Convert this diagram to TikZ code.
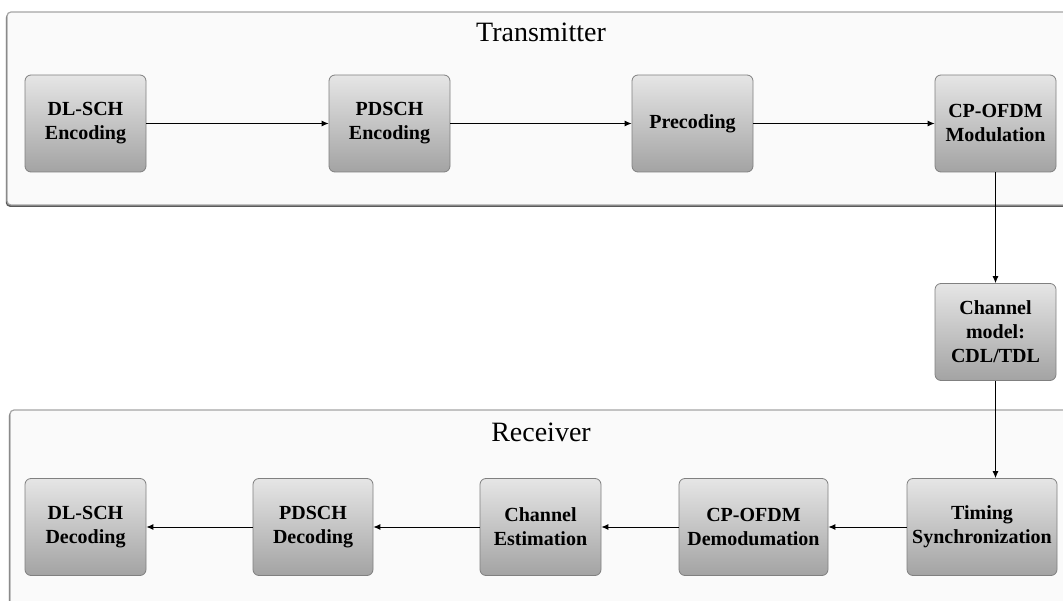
\documentclass[tikz,border=0pt]{standalone}
\usepackage{fontspec}
\setmainfont{Liberation Serif}
\usetikzlibrary{positioning,arrows.meta,shadows}
\definecolor{PanelFill}{RGB}{250,250,250}
\definecolor{PanelEdge}{RGB}{165,165,165}
\definecolor{BlockEdge}{RGB}{128,128,128}

\begin{document}
\begin{tikzpicture}[x=1pt,y=-1pt,
  block/.style={draw=BlockEdge,line width=0.8pt,rounded corners=6pt,top color=black!10,bottom color=black!36,
    minimum width=121pt,minimum height=97pt,align=center,inner sep=2pt,
    font=\fontsize{20}{24}\selectfont\bfseries},
  wideblock/.style={block,minimum width=150pt},
  panel/.style={draw=PanelEdge,fill=PanelFill,line width=1.2pt,rounded corners=4pt,
    drop shadow={shadow xshift=-1.2pt,shadow yshift=-1.8pt,fill=black!65,opacity=1}},
  title/.style={anchor=base,font=\fontsize{28}{32}\selectfont},
  flow/.style={-{Latex[length=7pt,width=6pt]},line width=0.9pt}]
\useasboundingbox (0,0) rectangle (1063,601);

% panels
\draw[panel] (7,12) rectangle (1080,205);
\draw[panel] (10,410) rectangle (1080,620);
\node[title] (txtitle) at (541,42) {Transmitter};
\node[title] (rxtitle) at (541,442) {Receiver};

% transmitter chain
\node[block] (enc1) at (85.5,123.5) {DL-SCH\\Encoding};
\node[block] (enc2) at (389.5,123.5) {PDSCH\\Encoding};
\node[block] (prec) at (692.5,123.5) {Precoding};
\node[block] (mod) at (995.5,123.5) {CP-OFDM\\Modulation};

% channel
\node[block] (chan) at (995.5,332) {Channel\\model:\\CDL/TDL};

% receiver chain
\node[wideblock] (sync) at (982,527) {Timing\\Synchronization};
\node[wideblock,minimum width=149pt] (demod) at (753.5,527) {CP-OFDM\\Demodumation};
\node[block] (est) at (540.5,527) {Channel\\Estimation};
\node[block,minimum width=120pt] (dec2) at (313,527) {PDSCH\\Decoding};
\node[block] (dec1) at (85.5,527) {DL-SCH\\Decoding};

\draw[flow] (enc1) -- (enc2);
\draw[flow] (enc2) -- (prec);
\draw[flow] (prec) -- (mod);
\draw[flow] (mod.south) -- (chan.north);
\draw[flow] (chan.south) -- (chan.south |- sync.north);
\draw[flow] (sync) -- (demod);
\draw[flow] (demod) -- (est);
\draw[flow] (est) -- (dec2);
\draw[flow] (dec2) -- (dec1);
\end{tikzpicture}
\end{document}
